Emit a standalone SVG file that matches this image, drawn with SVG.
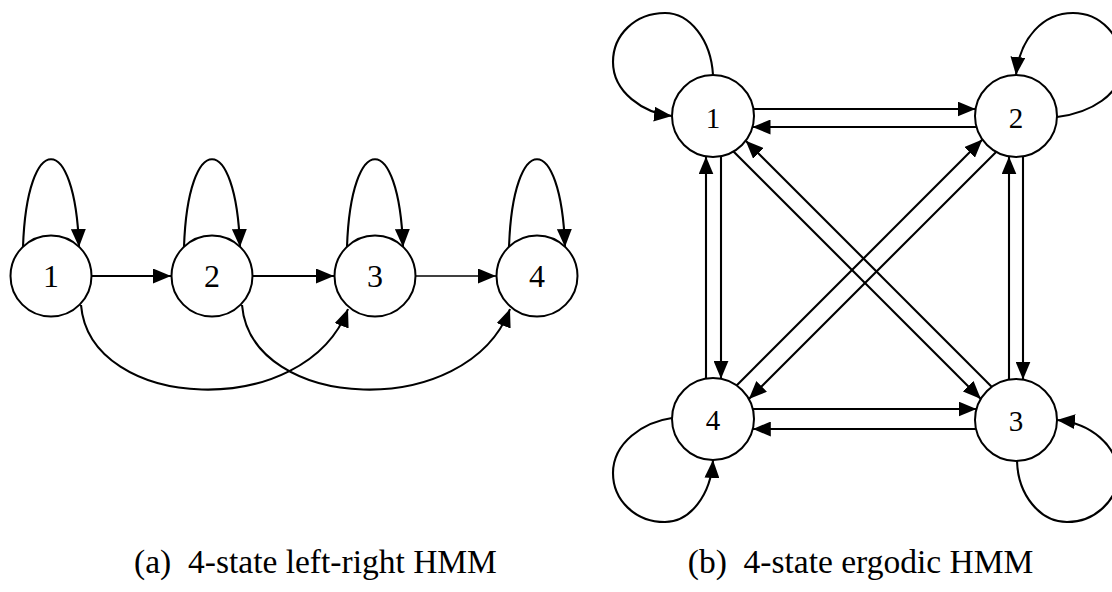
<svg xmlns="http://www.w3.org/2000/svg" width="1112" height="592" viewBox="0 0 1112 592">
<style>
.node circle{fill:#fff;stroke:#000;stroke-width:2}
.la{font-family:"Liberation Serif","Times New Roman",serif;font-size:32px;text-anchor:middle;fill:#000}
.lb{font-family:"Liberation Serif","Times New Roman",serif;font-size:29px;text-anchor:middle;fill:#000}
.cap{font-family:"Liberation Serif","Times New Roman",serif;font-size:33.5px;text-anchor:middle;fill:#000;white-space:pre}
#edges path,#edges line{fill:none;stroke:#000;stroke-width:2.1;marker-end:url(#ah)}
</style>
<defs>
<marker id="ah" markerUnits="userSpaceOnUse" markerWidth="18" markerHeight="15" viewBox="0 0 18 15" refX="18" refY="7.5" orient="auto">
<path d="M0,0 L18,7.5 L0,15 z" fill="#000"/>
</marker>
</defs>
<rect width="1112" height="592" fill="#fff"/>
<g id="edges">
<!-- left-right HMM -->
<path d="M23,247 C27,130 75,130 79,247"/>
<path d="M184,247 C188,130 236,130 240,247"/>
<path d="M347,247 C351,130 399,130 403,247"/>
<path d="M509,247 C513,130 561,130 565,247"/>
<line x1="92" y1="276" x2="171" y2="276"/>
<line x1="253" y1="276" x2="334" y2="276"/>
<line x1="416" y1="276" x2="496" y2="276" style="stroke-width:1.6"/>
<path d="M81,305 C90,412 305,422 348,309"/>
<path d="M242,305 C251,412 467,422 510,309"/>
<!-- ergodic HMM -->
<path d="M713,75 C711,40 690,13 665,13 C635,13 613,35 613,62 C613,92 643,113 672,116"/>
<path d="M1057,117 C1090,113 1122,95 1122,65 C1122,35 1100,13 1073,13 C1043,13 1020,38 1016,75"/>
<path d="M1017,461 C1018,495 1040,522 1067,522 C1095,522 1118,500 1118,475 C1118,445 1090,423 1057,420"/>
<path d="M672,418 C643,422 613,443 613,473 C613,500 635,522 665,522 C690,522 711,495 713,460"/>
<line x1="753.4" y1="109" x2="975.6" y2="109"/>
<line x1="976.5" y1="127" x2="752.5" y2="127"/>
<line x1="752.8" y1="409" x2="976.5" y2="409"/>
<line x1="976" y1="429" x2="752.8" y2="429"/>
<line x1="706" y1="378.6" x2="706" y2="156.4"/>
<line x1="721" y1="156.2" x2="721" y2="378.8"/>
<line x1="1009" y1="379.6" x2="1009" y2="156.4"/>
<line x1="1023" y1="156.4" x2="1023" y2="379.6"/>
<line x1="733.5" y1="151.5" x2="980.9" y2="398.9"/>
<line x1="991.9" y1="386.9" x2="745.7" y2="140.7"/>
<line x1="736.6" y1="385.4" x2="982.4" y2="139.6"/>
<line x1="996.1" y1="151.9" x2="748.9" y2="399.1"/>
</g>
<g id="a1" class="node"><circle cx="51" cy="276" r="40.5"/><text class="la" x="51" y="287">1</text></g>
<g id="a2" class="node"><circle cx="212" cy="276" r="40.5"/><text class="la" x="212" y="287">2</text></g>
<g id="a3" class="node"><circle cx="375" cy="276" r="40.5"/><text class="la" x="375" y="287">3</text></g>
<g id="a4" class="node"><circle cx="537" cy="276" r="40.5"/><text class="la" x="537" y="287">4</text></g>
<g id="b1" class="node"><circle cx="713" cy="116" r="41"/><text class="lb" x="713" y="128">1</text></g>
<g id="b2" class="node"><circle cx="1016" cy="116" r="41"/><text class="lb" x="1016" y="128">2</text></g>
<g id="b3" class="node"><circle cx="1016" cy="420" r="41"/><text class="lb" x="1016" y="431">3</text></g>
<g id="b4" class="node"><circle cx="713" cy="419" r="41"/><text class="lb" x="713" y="430">4</text></g>
<text class="cap" x="315.5" y="573">(a)  4-state left-right HMM</text>
<text class="cap" x="860.5" y="573">(b)  4-state ergodic HMM</text>
</svg>
